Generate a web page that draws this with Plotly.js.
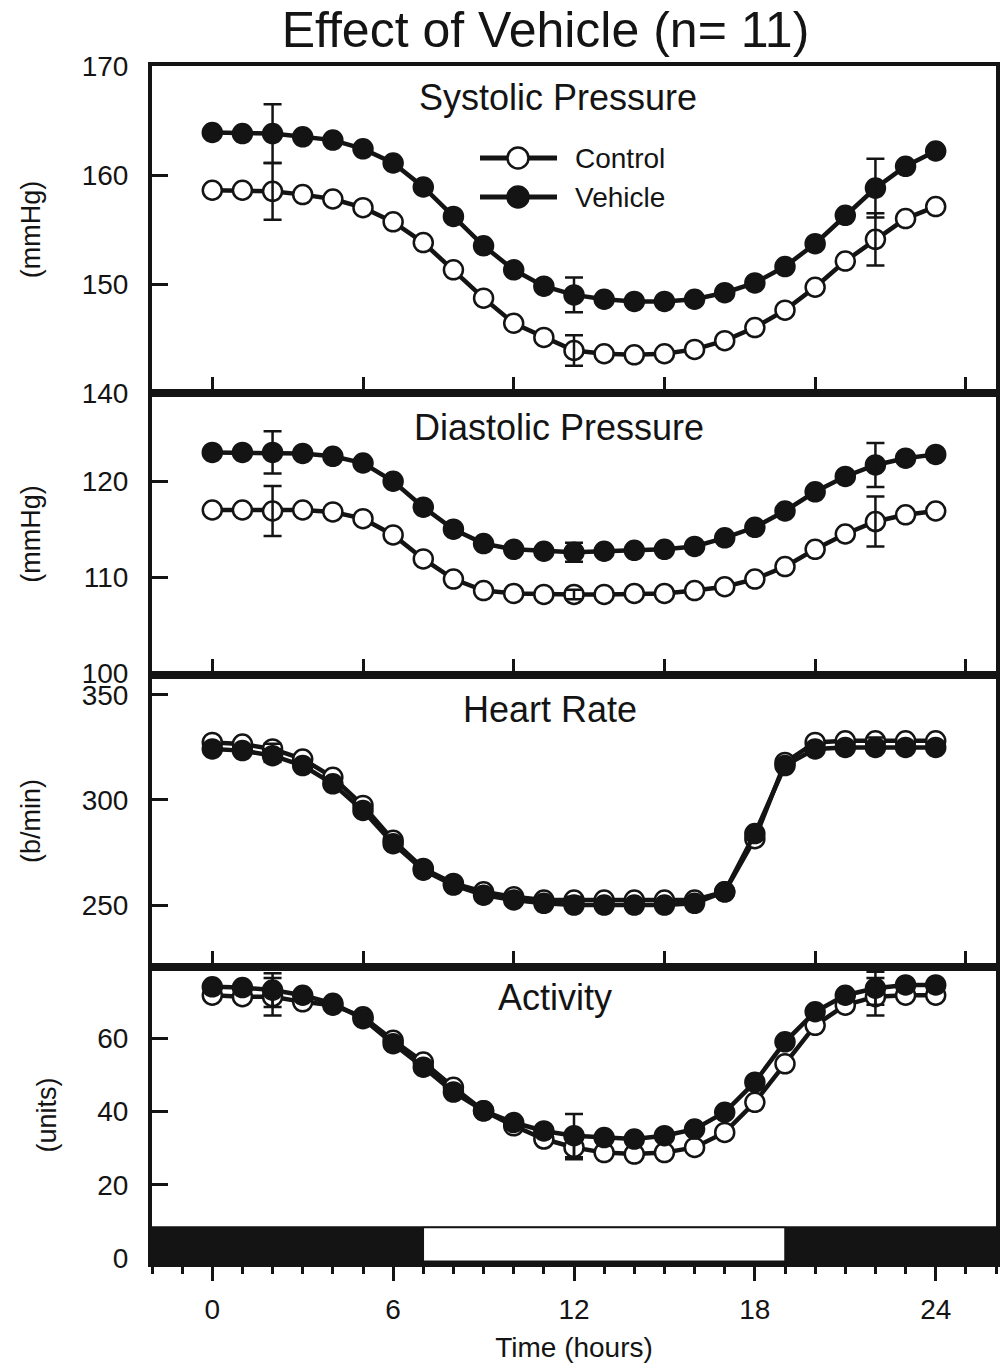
<!DOCTYPE html>
<html>
<head>
<meta charset="utf-8">
<script src="https://cdn.plot.ly/plotly-3.0.1.min.js"></script>
<style>html,body{margin:0;padding:0;background:#fff;}#chart{width:1006px;height:1363px;}</style>
</head>
<body>
<div id="chart"></div>
<script>
// ---------- data ----------
const hours = [0,1,2,3,4,5,6,7,8,9,10,11,12,13,14,15,16,17,18,19,20,21,22,23,24];

const sysControl = [158.6,158.6,158.5,158.2,157.8,157.0,155.7,153.8,151.3,148.7,146.4,145.1,143.9,143.6,143.5,143.6,144.0,144.8,146.0,147.6,149.7,152.1,154.1,156.0,157.1];
const sysVehicle = [163.9,163.8,163.8,163.5,163.2,162.4,161.1,158.9,156.2,153.5,151.3,149.8,149.0,148.6,148.4,148.4,148.6,149.2,150.1,151.6,153.7,156.3,158.8,160.8,162.2];

const diaControl = [117.0,117.0,116.9,117.0,116.8,116.1,114.4,111.9,109.8,108.6,108.3,108.2,108.2,108.2,108.3,108.3,108.6,109.0,109.8,111.1,112.9,114.5,115.8,116.5,116.9];
const diaVehicle = [123.0,123.0,123.0,122.9,122.6,121.9,120.0,117.3,115.0,113.5,112.9,112.7,112.6,112.7,112.8,112.9,113.2,114.1,115.2,116.9,118.9,120.5,121.7,122.4,122.8];

const hrControl = [327.4,326.6,324.3,319.5,310.8,297.4,280.8,267.4,260.3,256.3,253.9,252.4,252.4,252.4,252.4,252.4,252.4,256.3,281.6,317.9,327.4,328.2,328.2,328.2,328.2];
const hrVehicle = [324.3,323.5,321.1,316.4,307.7,295.0,279.2,266.6,259.5,254.7,252.4,250.8,250.0,250.0,250.0,250.0,250.8,256.3,284.0,316.4,324.3,325.0,325.0,325.0,325.0];

const actControl = [71.7,71.3,71.3,69.9,69.0,65.8,59.4,53.5,46.6,40.2,36.1,32.5,30.2,28.8,28.4,28.8,30.2,34.3,42.5,53.0,63.5,69.0,71.3,71.7,71.7];
const actVehicle = [74.0,73.8,73.1,71.7,69.5,65.3,58.5,52.1,45.3,40.2,37.0,34.7,33.4,32.9,32.5,33.4,35.2,39.8,48.0,59.0,67.2,71.7,73.6,74.5,74.5];

// SEM shown only at selected hours
const errHours = [2,12,22];
const sysControlErr = [2.6,1.4,2.4];
const sysVehicleErr = [2.7,1.6,2.7];
const diaControlErr = [2.6,0.5,2.6];
const diaVehicleErr = [2.2,1.0,2.3];
const hrControlErr = [2.5,1.5,1.5];
const hrVehicleErr = [3.0,1.5,1.5];
const actControlErr = [5.1,3.2,5.1];
const actVehicleErr = [4.6,5.9,4.5];

// light/dark cycle (hours)
const lightsOn = 7;
const lightsOff = 19;

const seriesNames = ['Control','Vehicle'];
const panelTitles = ['Systolic Pressure','Diastolic Pressure','Heart Rate','Activity'];
const unitLabels = ['(mmHg)','(mmHg)','(b/min)','(units)'];
const yTicks = [[140,150,160,170],[100,110,120],[250,300,350],[0,20,40,60]];
const xTicksBottom = [0,6,12,18,24];

// ---------- styling ----------
const FONT = 'Liberation Sans, Arial, Helvetica, sans-serif';
const INK = '#141414';
const X_RANGE = [-2, 26];
const Y_RANGES = [[140,170],[99.8,129.2],[220.5,359.5],[-1.3,79.4]];
const DOMAINS = [[0.72682,1],[0.49123,0.72682],[0.24729,0.49123],[0,0.24729]];
const BAR_TOP = 8.7;

function fullErr(errs) {
  return hours.map(h => { const i = errHours.indexOf(h); return i >= 0 ? errs[i] : NaN; });
}

const panels = [
  {c: sysControl, v: sysVehicle, ce: sysControlErr, ve: sysVehicleErr},
  {c: diaControl, v: diaVehicle, ce: diaControlErr, ve: diaVehicleErr},
  {c: hrControl,  v: hrVehicle,  ce: hrControlErr,  ve: hrVehicleErr},
  {c: actControl, v: actVehicle, ce: actControlErr, ve: actVehicleErr}
];

const traces = [];
panels.forEach((p, k) => {
  const xa = 'x' + (k + 1), ya = 'y' + (k + 1);
  traces.push({
    x: hours, y: p.c, xaxis: xa, yaxis: ya, name: seriesNames[0], type: 'scatter', mode: 'lines+markers',
    line: {color: INK, width: 4.5},
    marker: {symbol: 'circle', size: 19, color: '#ffffff', line: {color: INK, width: 2.5}},
    showlegend: false, hoverinfo: 'skip', cliponaxis: false
  });
  traces.push({
    x: hours, y: p.v, xaxis: xa, yaxis: ya, name: seriesNames[1], type: 'scatter', mode: 'lines+markers',
    line: {color: INK, width: 4.5},
    marker: {symbol: 'circle', size: 19, color: INK, line: {color: INK, width: 2.5}},
    showlegend: false, hoverinfo: 'skip', cliponaxis: false
  });
  [[p.c, p.ce], [p.v, p.ve]].forEach(([vals, errs]) => {
    traces.push({
      x: hours, y: vals, xaxis: xa, yaxis: ya, type: 'scatter', mode: 'markers',
      marker: {size: 1, color: 'rgba(0,0,0,0)'},
      error_y: {type: 'data', array: fullErr(errs), visible: true, color: INK, thickness: 2.5, width: 9},
      showlegend: false, hoverinfo: 'skip', cliponaxis: false
    });
  });
});

const layout = {
  width: 1006, height: 1363,
  margin: {l: 152, r: 10, t: 66, b: 100},
  paper_bgcolor: '#ffffff', plot_bgcolor: '#ffffff',
  font: {family: FONT, color: INK, size: 28},
  showlegend: false,
  title: {text: 'Effect of Vehicle (n= 11)', font: {family: FONT, size: 50, color: INK},
          x: 0.4662, xref: 'paper', xanchor: 'center', y: 0.978, yref: 'container', yanchor: 'middle'},
  shapes: [], annotations: []
};

for (let k = 0; k < 4; k++) {
  const n = k + 1;
  const isBottom = (k === 3);
  layout['xaxis' + n] = Object.assign({
    anchor: 'y' + n, domain: [0, 1], range: X_RANGE,
    showline: true, linewidth: 4, linecolor: INK, mirror: true,
    showgrid: false, zeroline: false, tickcolor: INK, tickwidth: 3
  }, isBottom ? {
    ticks: 'outside', ticklen: 14, tickmode: 'array', tickvals: xTicksBottom,
    ticktext: xTicksBottom.map(String), ticklabelstandoff: 4,
    tickfont: {family: FONT, size: 28, color: INK},
    minor: {dtick: 1, tick0: 0, ticks: 'outside', ticklen: 7, tickwidth: 3, tickcolor: INK, showgrid: false},
    title: {text: 'Time (hours)', font: {family: FONT, size: 28, color: INK}, standoff: 16}
  } : {
    ticks: 'inside', ticklen: 16, tick0: 0, dtick: 5, showticklabels: false, matches: 'x4'
  });
  layout['yaxis' + n] = {
    anchor: 'x' + n, domain: DOMAINS[k], range: Y_RANGES[k],
    showline: true, linewidth: 4, linecolor: INK, mirror: true,
    showgrid: false, zeroline: false,
    ticks: 'inside', ticklen: 16, tickwidth: 3, tickcolor: INK,
    tickmode: 'array', tickvals: yTicks[k], ticktext: yTicks[k].map(String),
    ticklabelstandoff: 14,
    tickfont: {family: FONT, size: 28, color: INK},
    title: {text: unitLabels[k], font: {family: FONT, size: 27, color: INK}, standoff: 34}
  };
}

// panel titles
const titlePos = [[0.481, 0.9733],[0.482, 0.6976],[0.4716, 0.4620],[0.4775, 0.2222]];
panelTitles.forEach((t, k) => {
  layout.annotations.push({text: t, xref: 'paper', yref: 'paper', x: titlePos[k][0], y: titlePos[k][1],
    xanchor: 'center', yanchor: 'middle', showarrow: false, font: {family: FONT, size: 36, color: INK}});
});

// light/dark bar in activity panel
layout.shapes.push({type: 'rect', xref: 'x4', yref: 'y4', x0: X_RANGE[0], x1: X_RANGE[1], y0: Y_RANGES[3][0], y1: BAR_TOP,
  fillcolor: INK, line: {width: 0}, layer: 'below'});
layout.shapes.push({type: 'rect', xref: 'x4', yref: 'y4', x0: lightsOn, x1: lightsOff, y0: Y_RANGES[3][0] + 0.5, y1: BAR_TOP - 0.3,
  fillcolor: '#ffffff', line: {width: 1.5, color: INK}, layer: 'below'});

// legend (drawn in panel 1)
const W = 844, H = 1197;
const lgX0 = (480 - 152) / W, lgX1 = (557 - 152) / W, lgXm = (518 - 152) / W;
const lgY = [(1263 - 158) / H, (1263 - 197) / H];
const rX = 10.5 / W, rY = 10.5 / H;
seriesNames.forEach((nm, i) => {
  layout.shapes.push({type: 'line', xref: 'paper', yref: 'paper', x0: lgX0, x1: lgX1, y0: lgY[i], y1: lgY[i],
    line: {color: INK, width: 5}});
  layout.shapes.push({type: 'circle', xref: 'paper', yref: 'paper', x0: lgXm - rX, x1: lgXm + rX, y0: lgY[i] - rY, y1: lgY[i] + rY,
    fillcolor: i === 0 ? '#ffffff' : INK, line: {color: INK, width: 2.5}});
  layout.annotations.push({text: nm, xref: 'paper', yref: 'paper', x: (573 - 152) / W, y: lgY[i],
    xanchor: 'left', yanchor: 'middle', showarrow: false, font: {family: FONT, size: 28, color: INK}});
});

Plotly.newPlot('chart', traces, layout, {staticPlot: true, displayModeBar: false});
</script>
</body>
</html>
